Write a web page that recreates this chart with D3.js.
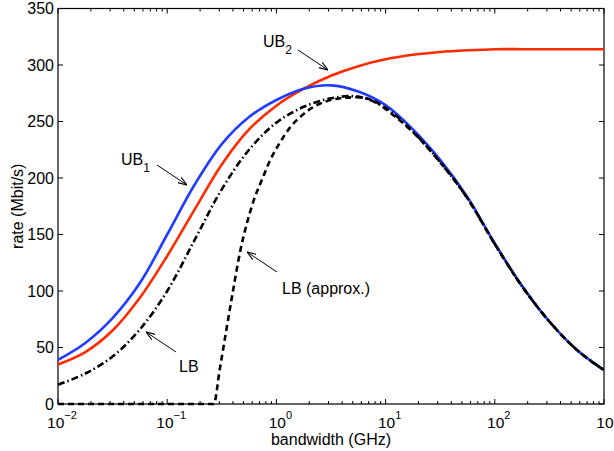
<!DOCTYPE html>
<html>
<head>
<meta charset="utf-8">
<script src="https://cdn.jsdelivr.net/npm/d3@7"></script>
<style>
  body { margin: 0; background: #fff; }
  text { font-family: "Liberation Sans", Arial, Helvetica, sans-serif; }
</style>
</head>
<body>
<script>
// chart box (pixels of the 614x451 window)
const W = 614, H = 451;
const box = { left: 58, right: 604, top: 8.5, bottom: 404 };

// ---- data ----
const bandwidth = [0.01, 0.0178, 0.0316, 0.0562, 0.1, 0.178, 0.316, 0.562, 1, 1.78, 3.16,
                   5.62, 10, 17.8, 31.6, 56.2, 100, 178, 316, 562, 1000];   // GHz
const ub1 = [39, 54, 76, 107, 150, 194, 230, 254, 269, 279, 282, 276.5, 264.5, 243, 216, 183, 142, 104.5, 73, 48, 30];
const ub2 = [35, 46, 65, 94, 131, 172, 212, 243, 264, 279, 290.5, 299, 305, 309, 311.5, 313, 314, 314, 314, 314, 314];
const lb  = [17, 27, 42, 66, 100, 145, 190, 225, 249, 263, 270.5, 272, 262, 241, 214, 182, 141.5, 104, 73, 48, 30];

const lbApproxBandwidth = [0.01, 0.267, 0.302, 0.353, 0.407, 0.468, 0.537, 0.619, 0.741, 0.879, 1.072,
                           1.34, 1.698, 2.193, 2.884, 3.846, 5.47, 7.94, 10, 17.8, 31.6, 56.2, 100,
                           178, 316, 562, 1000];
const lbApprox = [0, 0, 30, 69, 104, 136, 160, 180, 199, 216, 231,
                  245, 255, 263, 268, 270.5, 271.5, 268, 261, 240.5, 214, 182, 141.5,
                  104, 73, 48, 30];

const yTicks = [0, 50, 100, 150, 200, 250, 300, 350];
const xDecades = [-2, -1, 0, 1, 2, 3];

const svg = d3.select('body').append('svg')
    .attr('width', W)
    .attr('height', H);

const x = d3.scaleLog().domain([0.01, 1000]).range([box.left, box.right]);
const y = d3.scaleLinear().domain([0, 350]).range([box.bottom, box.top]);

// ---- axes (MATLAB style: ticks inward, box on) ----
const minorTicks = x.ticks();
const isDecade = v => Math.abs(Math.log10(v) - Math.round(Math.log10(v))) < 1e-9;

function xTicks(g, top) {
    const y0 = top ? box.top : box.bottom, dir = top ? 1 : -1;
    g.selectAll('line')
        .data(minorTicks)
        .join('line')
        .attr('x1', d => x(d)).attr('x2', d => x(d))
        .attr('y1', y0)
        .attr('y2', d => y0 + dir * (isDecade(d) ? 5 : 3))
        .attr('stroke', '#000').attr('stroke-width', 1);
}
function yTickLines(g, right) {
    const x0 = right ? box.right : box.left, dir = right ? -1 : 1;
    g.selectAll('line')
        .data(yTicks)
        .join('line')
        .attr('x1', x0).attr('x2', x0 + dir * 5)
        .attr('y1', d => y(d)).attr('y2', d => y(d))
        .attr('stroke', '#000').attr('stroke-width', 1);
}

const axes = svg.append('g');
xTicks(axes.append('g'), false);
xTicks(axes.append('g'), true);
yTickLines(axes.append('g'), false);
yTickLines(axes.append('g'), true);

axes.append('rect')
    .attr('x', box.left).attr('y', box.top)
    .attr('width', box.right - box.left).attr('height', box.bottom - box.top)
    .attr('fill', 'none').attr('stroke', '#000').attr('stroke-width', 1.2);

// y tick labels
axes.append('g').selectAll('text')
    .data(yTicks)
    .join('text')
    .attr('x', box.left - 4)
    .attr('y', d => y(d) + 5.5)
    .attr('text-anchor', 'end')
    .attr('font-size', 16)
    .text(d => d);

// x tick labels 10^k
const xl = axes.append('g').selectAll('text')
    .data(xDecades)
    .join('text')
    .attr('x', d => x(Math.pow(10, d)) + 4)
    .attr('y', box.bottom + 24)
    .attr('text-anchor', 'middle')
    .attr('font-size', 15.5);
xl.append('tspan').text('10');
xl.append('tspan').attr('dy', -9).attr('font-size', 11).text(d => d < 0 ? '\u2212' + (-d) : d);

// axis titles
svg.append('text')
    .attr('x', (box.left + box.right) / 2)
    .attr('y', 445)
    .attr('text-anchor', 'middle')
    .attr('font-size', 16)
    .text('bandwidth (GHz)');
svg.append('text')
    .attr('transform', `translate(23,${(box.top + box.bottom) / 2}) rotate(-90)`)
    .attr('text-anchor', 'middle')
    .attr('font-size', 16)
    .text('rate (Mbit/s)');

// ---- curves ----
const smooth = d3.line()
    .x(d => x(d[0]))
    .y(d => y(d[1]))
    .curve(d3.curveCatmullRom.alpha(0.5));
// the approximation has a sharp corner where it leaves zero
const monotone = d3.line()
    .x(d => x(d[0]))
    .y(d => y(d[1]))
    .curve(d3.curveMonotoneX);

const series = [
    { xs: bandwidth, ys: ub2, color: '#ff2a00', dash: null, gen: smooth },
    { xs: bandwidth, ys: ub1, color: '#1f3cff', dash: null, gen: smooth },
    { xs: bandwidth, ys: lb, color: '#000', dash: '7,3,1.5,3', gen: smooth },
    { xs: lbApproxBandwidth, ys: lbApprox, color: '#000', dash: '6,4', gen: monotone }
];
svg.append('g').selectAll('path')
    .data(series)
    .join('path')
    .attr('d', s => s.gen(d3.zip(s.xs, s.ys)))
    .attr('fill', 'none')
    .attr('stroke', s => s.color)
    .attr('stroke-width', 2.6)
    .attr('stroke-dasharray', s => s.dash);

// ---- annotations ----
svg.append('defs').append('marker')
    .attr('id', 'ah')
    .attr('viewBox', '0 0 10 10')
    .attr('refX', 10).attr('refY', 5)
    .attr('markerWidth', 9).attr('markerHeight', 9)
    .attr('orient', 'auto')
    .append('path')
    .attr('d', 'M0,1.5 L10,5 L0,8.5')
    .attr('fill', 'none').attr('stroke', '#000').attr('stroke-width', 1.2);

const notes = [
    { label: 'UB', sub: '2', tx: 263, ty: 47, x1: 298, y1: 50, x2: 328, y2: 70 },
    { label: 'UB', sub: '1', tx: 121, ty: 165, x1: 157, y1: 165, x2: 187, y2: 185 },
    { label: 'LB', sub: null, tx: 179, ty: 372, x1: 176, y1: 352, x2: 146, y2: 332 },
    { label: 'LB (approx.)', sub: null, tx: 282, ty: 294, x1: 277, y1: 272, x2: 247, y2: 252 }
];
const ann = svg.append('g').selectAll('g').data(notes).join('g');
ann.append('line')
    .attr('x1', d => d.x1).attr('y1', d => d.y1)
    .attr('x2', d => d.x2).attr('y2', d => d.y2)
    .attr('stroke', '#000').attr('stroke-width', 1)
    .attr('marker-end', 'url(#ah)');
const at = ann.append('text')
    .attr('x', d => d.tx).attr('y', d => d.ty)
    .attr('font-size', 16);
at.append('tspan').text(d => d.label);
at.filter(d => d.sub).append('tspan')
    .attr('dy', 7).attr('font-size', 12).text(d => d.sub);
</script>
</body>
</html>
